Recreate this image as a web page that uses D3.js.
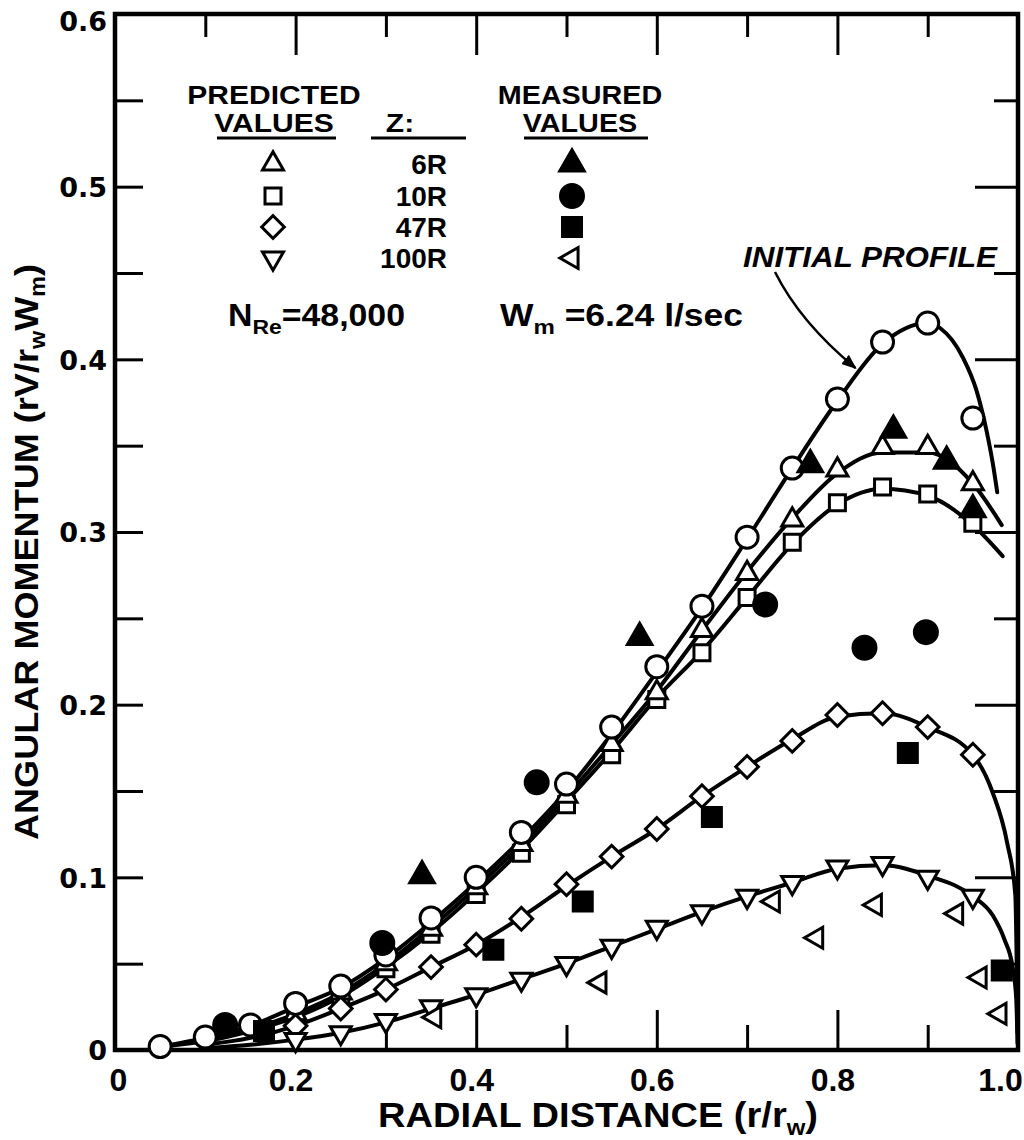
<!DOCTYPE html>
<html>
<head>
<meta charset="utf-8">
<script src="https://cdn.jsdelivr.net/npm/d3@7"></script>
<style>
  body { margin: 0; background: #fff; }
  svg { display: block; }
  text { fill: #000; }
</style>
</head>
<body>
<svg id="chart" width="1024" height="1140"></svg>
<script>
// ---- axis ticks / labels ----
const xTickValues = [0, 0.2, 0.4, 0.6, 0.8, 1.0];
const xTickLabels = ["0", "0.2", "0.4", "0.6", "0.8", "1.0"];
const yTickValues = [0, 0.1, 0.2, 0.3, 0.4, 0.5, 0.6];
const yTickLabels = ["0", "0.1", "0.2", "0.3", "0.4", "0.5", "0.6"];

// ---- legend ----
const zLabels = ["6R", "10R", "47R", "100R"];

// ---- initial profile (open circles) ----
const initX = [0.05, 0.10, 0.15, 0.20, 0.25, 0.30, 0.35, 0.40, 0.45, 0.50, 0.55, 0.60, 0.65, 0.70, 0.75, 0.80, 0.85, 0.90, 0.95];
const initY = [0.002, 0.0075, 0.0145, 0.027, 0.037, 0.055, 0.0765, 0.100, 0.126, 0.154, 0.187, 0.222, 0.257, 0.297, 0.337, 0.377, 0.410, 0.421, 0.366];

// ---- predicted values at each axial station ----
const predX = [0.20, 0.25, 0.30, 0.35, 0.40, 0.45, 0.50, 0.55, 0.60, 0.65, 0.70, 0.75, 0.80, 0.85, 0.90, 0.95];
const pred6R = [0.021, 0.033, 0.050, 0.070, 0.094, 0.119, 0.147, 0.177, 0.207, 0.243, 0.276, 0.307, 0.336, 0.349, 0.349, 0.328];
const pred10R = [0.018, 0.031, 0.047, 0.067, 0.090, 0.114, 0.142, 0.171, 0.203, 0.230, 0.262, 0.294, 0.317, 0.326, 0.322, 0.305];
const pred47R = [0.014, 0.024, 0.035, 0.048, 0.061, 0.076, 0.096, 0.112, 0.128, 0.147, 0.164, 0.179, 0.194, 0.195, 0.187, 0.171];
const pred100R = [0.006, 0.010, 0.017, 0.025, 0.032, 0.041, 0.050, 0.060, 0.071, 0.080, 0.089, 0.097, 0.106, 0.108, 0.100, 0.089];

// ---- smooth curves through the profiles ----
const curveInitX = [0.05, 0.10, 0.15, 0.20, 0.25, 0.30, 0.35, 0.40, 0.45, 0.50, 0.55, 0.60, 0.65, 0.70, 0.75, 0.80, 0.85, 0.90, 0.914, 0.939, 0.954, 0.965, 0.972, 0.977];
const curveInitY = [0.002, 0.007, 0.014, 0.025, 0.036, 0.053, 0.074, 0.097, 0.122, 0.150, 0.183, 0.219, 0.256, 0.296, 0.337, 0.376, 0.409, 0.421, 0.418, 0.401, 0.382, 0.359, 0.340, 0.323];
const curve6RX = [0.05, 0.10, 0.15, 0.20, 0.25, 0.30, 0.35, 0.40, 0.45, 0.50, 0.55, 0.60, 0.65, 0.70, 0.75, 0.80, 0.85, 0.90, 0.95, 0.982];
const curve6RY = [0.002, 0.006, 0.012, 0.021, 0.033, 0.050, 0.071, 0.094, 0.119, 0.147, 0.177, 0.208, 0.243, 0.277, 0.308, 0.334, 0.346, 0.346, 0.328, 0.304];
const curve10RX = [0.05, 0.10, 0.15, 0.20, 0.25, 0.30, 0.35, 0.40, 0.45, 0.50, 0.55, 0.60, 0.65, 0.70, 0.75, 0.80, 0.85, 0.90, 0.95, 0.983];
const curve10RY = [0.002, 0.005, 0.011, 0.019, 0.031, 0.048, 0.068, 0.091, 0.116, 0.144, 0.173, 0.204, 0.231, 0.262, 0.293, 0.316, 0.325, 0.321, 0.304, 0.286];
const curve47RX = [0.10, 0.15, 0.20, 0.25, 0.30, 0.35, 0.40, 0.45, 0.50, 0.55, 0.60, 0.65, 0.70, 0.75, 0.80, 0.85, 0.90, 0.95, 0.972, 0.988, 0.997, 0.9995];
const curve47RY = [0.003, 0.007, 0.014, 0.024, 0.035, 0.048, 0.061, 0.077, 0.095, 0.112, 0.128, 0.147, 0.164, 0.180, 0.193, 0.195, 0.187, 0.171, 0.149, 0.120, 0.090, 0.010];
const curve100RX = [0.10, 0.15, 0.20, 0.25, 0.30, 0.35, 0.40, 0.45, 0.50, 0.55, 0.60, 0.65, 0.70, 0.75, 0.80, 0.85, 0.90, 0.95, 0.972, 0.985, 0.994, 0.998, 0.9995];
const curve100RY = [0.001, 0.003, 0.006, 0.010, 0.016, 0.024, 0.032, 0.041, 0.050, 0.060, 0.070, 0.080, 0.089, 0.097, 0.105, 0.107, 0.101, 0.089, 0.078, 0.064, 0.048, 0.030, 0.004];

// ---- measured values ----
const meas6RX = [0.340, 0.581, 0.770, 0.862, 0.921, 0.950];
const meas6RY = [0.101, 0.239, 0.339, 0.359, 0.341, 0.313];
const meas10RX = [0.122, 0.296, 0.467, 0.720, 0.830, 0.898];
const meas10RY = [0.0145, 0.062, 0.155, 0.258, 0.233, 0.242];
const meas47RX = [0.165, 0.419, 0.518, 0.661, 0.878, 0.982];
const meas47RY = [0.011, 0.058, 0.086, 0.135, 0.172, 0.046];
const meas100RX = [0.354, 0.537, 0.729, 0.777, 0.842, 0.932, 0.958, 0.980];
const meas100RY = [0.019, 0.039, 0.086, 0.065, 0.084, 0.079, 0.042, 0.021];

// ---- layout ----
const plot = { left: 115, top: 14, right: 1018, bottom: 1050 };
const svg = d3.select("#chart");

const x = d3.scaleLinear().domain([0, 1]).range([plot.left, plot.right]);
const y = d3.scaleLinear().domain([0, 0.6]).range([plot.bottom, plot.top]);

const BOLD = "'Liberation Sans', Arial, sans-serif";
const WIDE = "'DejaVu Sans', sans-serif";

// marker styles
const sym = {
  openCircle:  { type: d3.symbolCircle,   size: Math.PI * 11 * 11, rot: 0,   fill: "#fff" },
  openTriUp:   { type: d3.symbolTriangle, size: 191, rot: 0,   fill: "#fff" },
  openSquare:  { type: d3.symbolSquare,   size: 256, rot: 0,   fill: "#fff" },
  openDiamond: { type: d3.symbolSquare,   size: 256, rot: 45,  fill: "#fff" },
  openTriDown: { type: d3.symbolTriangle, size: 191, rot: 180, fill: "#fff" },
  fillTriUp:   { type: d3.symbolTriangle, size: 260, rot: 0,   fill: "#000" },
  fillCircle:  { type: d3.symbolCircle,   size: Math.PI * 11.5 * 11.5, rot: 0, fill: "#000" },
  fillSquare:  { type: d3.symbolSquare,   size: 361, rot: 0,   fill: "#000" },
  openTriLeft: { type: d3.symbolTriangle, size: 191, rot: -90, fill: "#fff" }
};

function drawMarkers(g, xs, ys, style) {
  const pts = xs.map((v, i) => [v, ys[i]]);
  g.append("g").selectAll("path").data(pts).join("path")
    .attr("d", d3.symbol().type(style.type).size(style.size)())
    .attr("transform", d => `translate(${x(d[0])},${y(d[1])}) rotate(${style.rot})`)
    .attr("fill", style.fill)
    .attr("stroke", "#000")
    .attr("stroke-width", 3);
}

function placeMarker(g, px, py, style) {
  g.append("path")
    .attr("d", d3.symbol().type(style.type).size(style.size)())
    .attr("transform", `translate(${px},${py}) rotate(${style.rot})`)
    .attr("fill", style.fill)
    .attr("stroke", "#000")
    .attr("stroke-width", 3);
}

// ---- frame ----
svg.append("rect")
  .attr("x", plot.left).attr("y", plot.top)
  .attr("width", plot.right - plot.left).attr("height", plot.bottom - plot.top)
  .attr("fill", "none").attr("stroke", "#000").attr("stroke-width", 4.5);

// ---- inward ticks on all four sides ----
const tenths = [0.1, 0.2, 0.3, 0.4, 0.5, 0.6, 0.7, 0.8, 0.9];
const twentieths = [0.05, 0.1, 0.15, 0.2, 0.25, 0.3, 0.35, 0.4, 0.45, 0.5, 0.55];
const isEvenTenth = d => Math.round(d * 10) % 2 === 0;
const isTenth = d => Math.round(d * 20) % 2 === 0;

svg.append("g").attr("transform", `translate(0,${plot.bottom})`)
  .call(d3.axisBottom(x).tickValues(tenths).tickFormat("").tickSizeOuter(0))
  .call(g => g.select(".domain").remove())
  .call(g => g.selectAll(".tick line").attr("y2", d => isEvenTenth(d) ? -40 : -25).attr("stroke-width", 3));
svg.append("g").attr("transform", `translate(0,${plot.top})`)
  .call(d3.axisTop(x).tickValues(tenths).tickFormat("").tickSizeOuter(0))
  .call(g => g.select(".domain").remove())
  .call(g => g.selectAll(".tick line").attr("y2", d => isEvenTenth(d) ? 41 : 23).attr("stroke-width", 3));
svg.append("g").attr("transform", `translate(${plot.left},0)`)
  .call(d3.axisLeft(y).tickValues(twentieths).tickFormat("").tickSizeOuter(0))
  .call(g => g.select(".domain").remove())
  .call(g => g.selectAll(".tick line").attr("x2", 28).attr("stroke-width", 3));
svg.append("g").attr("transform", `translate(${plot.right},0)`)
  .call(d3.axisRight(y).tickValues(twentieths).tickFormat("").tickSizeOuter(0))
  .call(g => g.select(".domain").remove())
  .call(g => g.selectAll(".tick line").attr("x2", d => isTenth(d) ? -43 : -24).attr("stroke-width", 3));

// ---- tick labels ----
svg.append("g").attr("transform", `translate(0,${plot.bottom})`)
  .call(d3.axisBottom(x).tickValues(xTickValues)
    .tickFormat((d, i) => xTickLabels[i]).tickSize(0).tickPadding(18))
  .call(g => g.select(".domain").remove())
  .call(g => g.selectAll(".tick text")
    .attr("font-family", BOLD).attr("font-weight", "bold").attr("font-size", 32)
    .attr("fill", "#000")
    .attr("dx", (d, i) => i === 0 ? 3 : (i === xTickValues.length - 1 ? -18 : -5)));

svg.append("g").attr("transform", `translate(${plot.left},0)`)
  .call(d3.axisLeft(y).tickValues(yTickValues)
    .tickFormat((d, i) => yTickLabels[i]).tickSize(0).tickPadding(8))
  .call(g => g.select(".domain").remove())
  .call(g => g.selectAll(".tick text")
    .attr("font-family", WIDE).attr("font-weight", "bold").attr("font-size", 27)
    .attr("fill", "#000")
    .attr("dy", (d, i) => i === yTickValues.length - 1 ? "0.62em" : "0.36em"));

// ---- axis titles ----
const xTitle = svg.append("text")
  .attr("x", 598).attr("y", 1127)
  .attr("text-anchor", "middle")
  .attr("font-family", BOLD).attr("font-weight", "bold").attr("font-size", 35)
  .attr("textLength", 440).attr("lengthAdjust", "spacingAndGlyphs");
xTitle.append("tspan").text("RADIAL DISTANCE (r/r");
xTitle.append("tspan").attr("font-size", 22).attr("dy", 8).text("w");
xTitle.append("tspan").attr("dy", -8).text(")");

const yTitle = svg.append("text")
  .attr("transform", "translate(38,552) rotate(-90)")
  .attr("text-anchor", "middle")
  .attr("font-family", BOLD).attr("font-weight", "bold").attr("font-size", 34)
  .attr("textLength", 576).attr("lengthAdjust", "spacingAndGlyphs");
yTitle.append("tspan").text("ANGULAR MOMENTUM (rV/r");
yTitle.append("tspan").attr("font-size", 22).attr("dy", 7).text("w");
yTitle.append("tspan").attr("dy", -7).text("W");
yTitle.append("tspan").attr("font-size", 22).attr("dy", 7).text("m");
yTitle.append("tspan").attr("dy", -7).text(")");

// ---- curves ----
const line = d3.line().x(d => x(d[0])).y(d => y(d[1])).curve(d3.curveMonotoneX);
const curves = [
  [curveInitX, curveInitY],
  [curve6RX, curve6RY],
  [curve10RX, curve10RY],
  [curve47RX, curve47RY],
  [curve100RX, curve100RY]
];
const curveG = svg.append("g");
curves.forEach(([cx, cy]) => {
  curveG.append("path")
    .datum(cx.map((v, i) => [v, cy[i]]))
    .attr("d", line)
    .attr("fill", "none").attr("stroke", "#000")
    .attr("stroke-width", 4).attr("stroke-linecap", "round").attr("stroke-linejoin", "round");
});

// ---- predicted markers ----
const markG = svg.append("g");
drawMarkers(markG, predX, pred10R, sym.openSquare);
drawMarkers(markG, predX, pred6R, sym.openTriUp);
drawMarkers(markG, predX, pred47R, sym.openDiamond);
drawMarkers(markG, predX, pred100R, sym.openTriDown);
drawMarkers(markG, initX, initY, sym.openCircle);

// ---- measured markers ----
drawMarkers(markG, meas6RX, meas6RY, sym.fillTriUp);
drawMarkers(markG, meas10RX, meas10RY, sym.fillCircle);
drawMarkers(markG, meas47RX, meas47RY, sym.fillSquare);
drawMarkers(markG, meas100RX, meas100RY, sym.openTriLeft);

// ---- legend ----
const leg = svg.append("g").attr("font-family", BOLD).attr("font-weight", "bold");
// two-line column headings, stretched horizontally to the lettering width
function header(lines, cx, by, size, sx) {
  const t = leg.append("text").attr("text-anchor", "middle").attr("font-size", size)
    .attr("transform", `translate(${cx},0) scale(${sx},1) translate(${-cx},0)`);
  lines.forEach((s, i) => {
    t.append("tspan").attr("x", cx).attr("y", by + i * 28).text(s);
  });
}
header(["PREDICTED", "VALUES"], 274, 104, 25, 1.2);
header(["Z:"], 400, 132, 25, 1.2);
header(["MEASURED", "VALUES"], 580, 104, 25, 1.15);
[[217, 336], [371, 466], [524, 648]].forEach(([a, b]) => {
  leg.append("line").attr("x1", a).attr("x2", b).attr("y1", 138).attr("y2", 138)
    .attr("stroke", "#000").attr("stroke-width", 3);
});
const rowY = [164, 196, 227, 258];
const predStyles = [sym.openTriUp, sym.openSquare, sym.openDiamond, sym.openTriDown];
const measStyles = [sym.fillTriUp, sym.fillCircle, sym.fillSquare, sym.openTriLeft];
const zText = leg.append("text").attr("text-anchor", "end").attr("font-size", 28);
zLabels.forEach((lab, i) => {
  placeMarker(leg, 273, rowY[i], predStyles[i]);
  zText.append("tspan").attr("x", 447).attr("y", rowY[i] + 10).text(lab);
  placeMarker(leg, 572, rowY[i], measStyles[i]);
});

// Reynolds number and mixer speed
const nre = leg.append("text").attr("x", 228).attr("y", 326).attr("font-size", 31)
  .attr("textLength", 177).attr("lengthAdjust", "spacingAndGlyphs");
nre.append("tspan").text("N");
nre.append("tspan").attr("font-size", 21).attr("dy", 8).text("Re");
nre.append("tspan").attr("dy", -8).text("=48,000");
const wm = leg.append("text").attr("x", 500).attr("y", 326).attr("font-size", 31)
  .attr("textLength", 243).attr("lengthAdjust", "spacingAndGlyphs");
wm.append("tspan").text("W");
wm.append("tspan").attr("font-size", 21).attr("dy", 8).text("m");
wm.append("tspan").attr("dy", -8).text(" =6.24 l/sec");

// ---- "INITIAL PROFILE" annotation with arrow ----
svg.append("defs").append("marker")
  .attr("id", "arrowhead").attr("viewBox", "0 0 10 10")
  .attr("refX", 9).attr("refY", 5)
  .attr("markerWidth", 6).attr("markerHeight", 6)
  .attr("markerUnits", "strokeWidth")
  .attr("orient", "auto")
  .append("path").attr("d", "M0,1 L10,5 L0,9 Z").attr("fill", "#000");

svg.append("text")
  .attr("x", 743).attr("y", 267)
  .attr("font-family", BOLD).attr("font-weight", "bold").attr("font-style", "italic")
  .attr("font-size", 30).attr("textLength", 254).attr("lengthAdjust", "spacingAndGlyphs")
  .text("INITIAL PROFILE");

const tipX = x(0.82), tipY = y(0.395);
svg.append("path")
  .attr("d", `M775,272 C790,302 ${tipX - 40},${tipY - 33} ${tipX},${tipY}`)
  .attr("fill", "none").attr("stroke", "#000").attr("stroke-width", 2.5)
  .attr("marker-end", "url(#arrowhead)");
</script>
</body>
</html>
